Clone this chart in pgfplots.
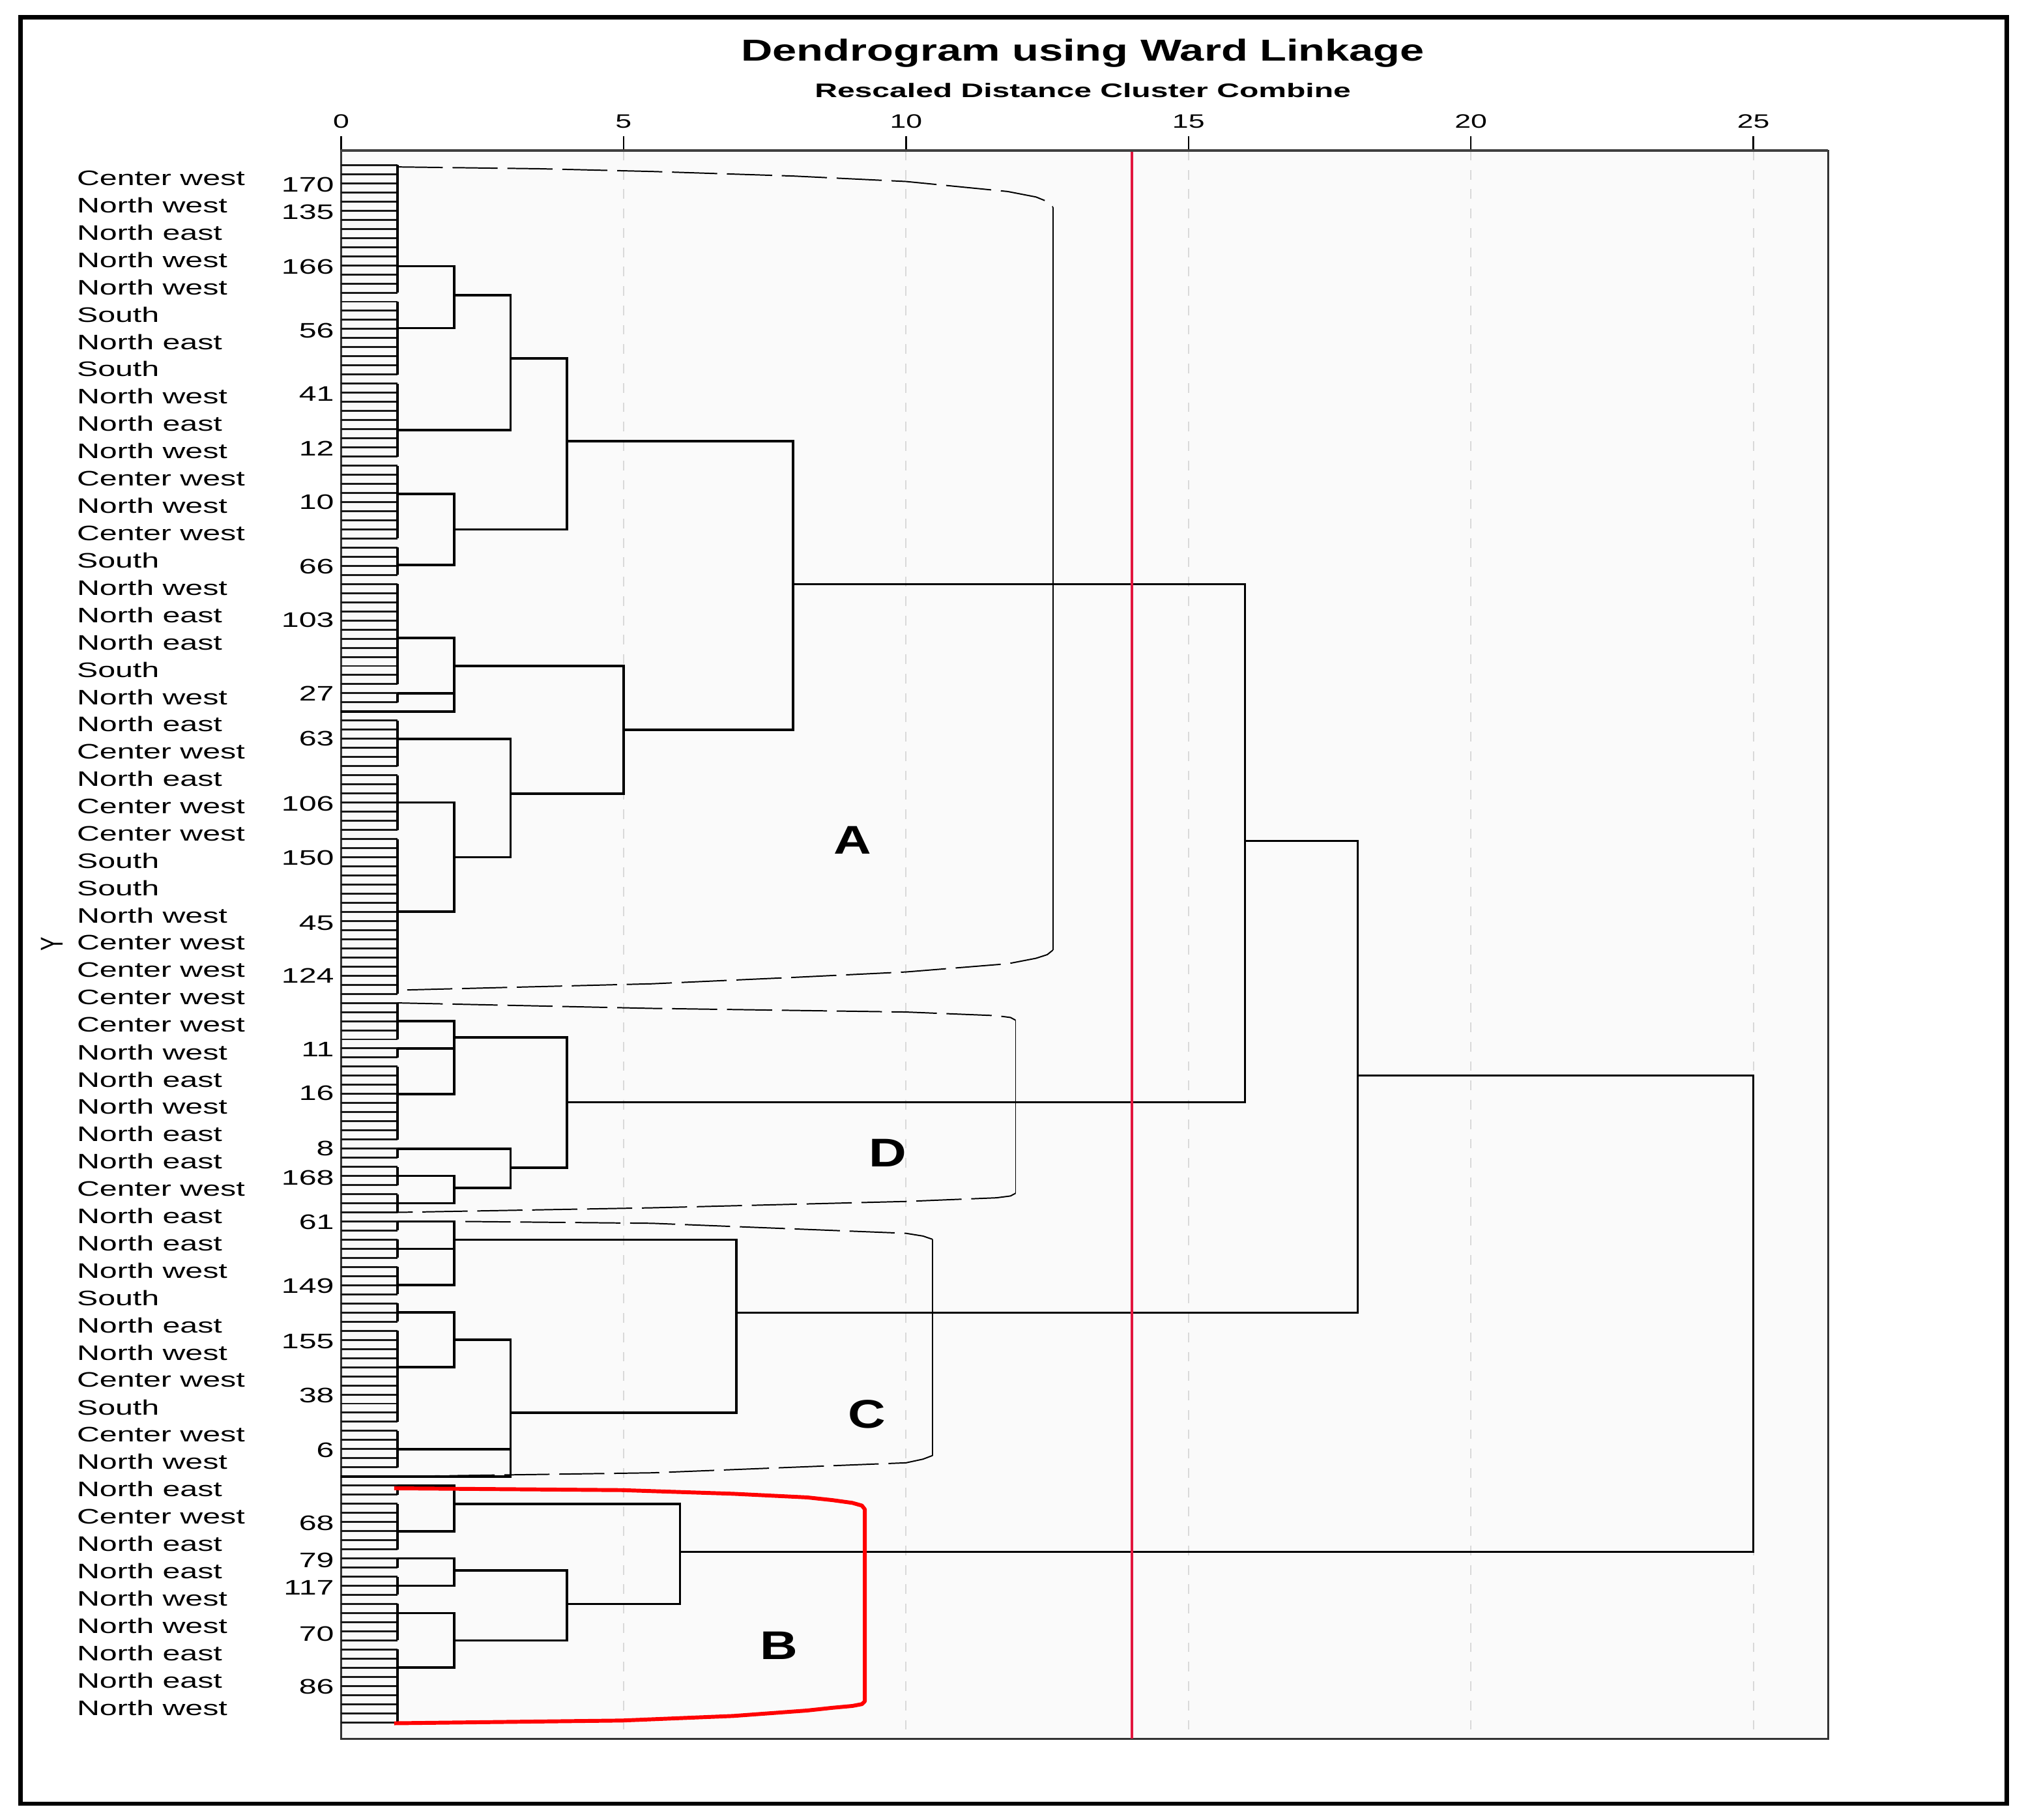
\documentclass[border=0pt]{standalone}
\usepackage{pgfplots}
\pgfplotsset{compat=1.18}
\usepackage{fontspec}
\setmainfont{Liberation Sans}
\usepackage{graphicx}
\newcommand{\sx}[1]{\scalebox{1.5}[1]{#1}}
\newcommand{\CW}{\sx{Center west}}
\newcommand{\NW}{\sx{North west}}
\newcommand{\NE}{\sx{North east}}
\newcommand{\SO}{\sx{South}}
\definecolor{cutred}{RGB}{226,22,62}
\begin{document}
\begin{tikzpicture}
\begin{axis}[
  scale only axis, width=460.4pt, height=491.8pt,
  xmin=0, xmax=26.32, ymin=-0.6, ymax=173.8, y dir=reverse,
  clip=false, unbounded coords=jump,
  axis background/.style={fill=black!2},
  axis line style={black!80, line width=0.6pt},
  tick align=outside, major tick length=4.4pt,
  xtick={0,5,10,15,20,25},
  xticklabels={\sx{0},\sx{5},\sx{10},\sx{15},\sx{20},\sx{25}},
  xtick pos=right, xticklabel pos=right,
  xticklabel style={font=\fontsize{6}{6.5}\selectfont, inner sep=0pt, yshift=2.3pt},
  xtick style={black, line width=0.5pt},
  xmajorgrids, major grid style={gray!30, dash pattern=on 3pt off 3pt, line width=0.4pt},
  ytick pos=left, ytick style={draw=none},
  ytick={3.17,6.15,12.2,19.2,26.1,32.1,38.0,45.1,50.95,59.0,64.0,71.1,77.1,84.2,90.0,98.1,102.9,109.0,112.2,117.1,124.1,130.2,136.1,142.1,150.1,154.2,157.2,162.3,168.1},
  yticklabels={\sx{170},\sx{135},\sx{166},\sx{56},\sx{41},\sx{12},\sx{10},\sx{66},\sx{103},\sx{27},\sx{63},\sx{106},\sx{150},\sx{45},\sx{124},\sx{11},\sx{16},\sx{8},\sx{168},\sx{61},\sx{149},\sx{155},\sx{38},\sx{6},\sx{68},\sx{79},\sx{117},\sx{70},\sx{86}},
  yticklabel style={font=\fontsize{6.5}{7}\selectfont, inner sep=0pt, xshift=2.4pt},
  extra y ticks={2.4,5.4,8.4,11.4,14.4,17.4,20.4,23.4,26.4,29.4,32.4,35.4,38.4,41.4,44.4,47.4,50.4,53.4,56.4,59.4,62.4,65.4,68.4,71.4,74.4,77.4,80.4,83.4,86.4,89.4,92.4,95.4,98.4,101.4,104.4,107.4,110.4,113.4,116.4,119.4,122.4,125.4,128.4,131.4,134.4,137.4,140.4,143.4,146.4,149.4,152.4,155.4,158.4,161.4,164.4,167.4,170.4},
  extra y tick labels={\CW,\NW,\NE,\NW,\NW,\SO,\NE,\SO,\NW,\NE,\NW,\CW,\NW,\CW,\SO,\NW,\NE,\NE,\SO,\NW,\NE,\CW,\NE,\CW,\CW,\SO,\SO,\NW,\CW,\CW,\CW,\CW,\NW,\NE,\NW,\NE,\NE,\CW,\NE,\NE,\NW,\SO,\NE,\NW,\CW,\SO,\CW,\NW,\NE,\CW,\NE,\NE,\NW,\NW,\NE,\NE,\NW},
  extra y tick style={yticklabel style={anchor=west, xshift=-80pt}},
]
% leaves
\addplot[xcomb, black!90, line width=0.6pt] coordinates {
(1,1)(1,2)(1,3)(1,4)(1,5)(1,6)(1,7)(1,8)(1,9)(1,10)(1,11)(1,12)(1,13)(1,14)(1,15)(1,16)(1,17)(1,18)(1,19)(1,20)
(1,21)(1,22)(1,23)(1,24)(1,25)(1,26)(1,27)(1,28)(1,29)(1,30)(1,31)(1,32)(1,33)(1,34)(1,35)(1,36)(1,37)(1,38)(1,39)(1,40)
(1,41)(1,42)(1,43)(1,44)(1,45)(1,46)(1,47)(1,48)(1,49)(1,50)(1,51)(1,52)(1,53)(1,54)(1,55)(1,56)(1,57)(1,58)(1,59)(1,60)
(1,61)(1,62)(1,63)(1,64)(1,65)(1,66)(1,67)(1,68)(1,69)(1,70)(1,71)(1,72)(1,73)(1,74)(1,75)(1,76)(1,77)(1,78)(1,79)(1,80)
(1,81)(1,82)(1,83)(1,84)(1,85)(1,86)(1,87)(1,88)(1,89)(1,90)(1,91)(1,92)(1,93)(1,94)(1,95)(1,96)(1,97)(1,98)(1,99)(1,100)
(1,101)(1,102)(1,103)(1,104)(1,105)(1,106)(1,107)(1,108)(1,109)(1,110)(1,111)(1,112)(1,113)(1,114)(1,115)(1,116)(1,117)(1,118)(1,119)(1,120)
(1,121)(1,122)(1,123)(1,124)(1,125)(1,126)(1,127)(1,128)(1,129)(1,130)(1,131)(1,132)(1,133)(1,134)(1,135)(1,136)(1,137)(1,138)(1,139)(1,140)
(1,141)(1,142)(1,143)(1,144)(1,145)(1,146)(1,147)(1,148)(1,149)(1,150)(1,151)(1,152)(1,153)(1,154)(1,155)(1,156)(1,157)(1,158)(1,159)(1,160)
(1,161)(1,162)(1,163)(1,164)(1,165)(1,166)(1,167)(1,168)(1,169)(1,170)(1,171)(1,172)};
% group bars at distance 1
\addplot[black, line width=0.9pt] coordinates {
(1,1)(1,15) (1,nan) (1,16)(1,24) (1,nan) (1,25)(1,33) (1,nan) (1,34)(1,42) (1,nan) (1,43)(1,46) (1,nan)
(1,47)(1,58) (1,nan) (1,59)(1,60) (1,nan) (1,62)(1,67) (1,nan) (1,68)(1,74) (1,nan) (1,75)(1,92) (1,nan)
(1,93)(1,97) (1,nan) (1,98)(1,99) (1,nan) (1,100)(1,108) (1,nan) (1,109)(1,110) (1,nan) (1,111)(1,113) (1,nan) (1,114)(1,116) (1,nan)
(1,117)(1,118) (1,nan) (1,119)(1,121) (1,nan) (1,122)(1,125) (1,nan) (1,126)(1,128) (1,nan) (1,129)(1,139) (1,nan) (1,140)(1,144) (1,nan)
(1,146)(1,147) (1,nan) (1,148)(1,153) (1,nan) (1,154)(1,155) (1,nan) (1,156)(1,158) (1,nan) (1,159)(1,163) (1,nan) (1,164)(1,172)};
% cluster A
\addplot[black, line width=0.75pt] coordinates {
(1,12.1)(2,12.1)(2,18.9)(1,18.9) (1,nan)
(2,15.3)(3,15.3)(3,30.1)(1,30.1) (1,nan)
(1,37.1)(2,37.1)(2,44.9)(1,44.9) (1,nan)
(3,22.2)(4,22.2)(4,41)(2,41) (1,nan)
(1,52.9)(2,52.9)(2,61)(0,61) (1,nan)
(1,59)(2,59) (1,nan)
(1,71)(2,71)(2,83)(1,83) (1,nan)
(1,64)(3,64)(3,77)(2,77) (1,nan)
(2,56)(5,56)(5,70)(3,70) (1,nan)
(4,31.3)(8,31.3)(8,63)(5,63)};
% cluster D
\addplot[black, line width=0.75pt] coordinates {
(1,95)(2,95)(2,103)(1,103) (1,nan)
(1,98)(2,98) (1,nan)
(1,112)(2,112)(2,115)(1,115) (1,nan)
(1,109)(3,109)(3,113.3)(2,113.3) (1,nan)
(2,96.8)(4,96.8)(4,111.1)(3,111.1)};
% cluster C
\addplot[black, line width=0.75pt] coordinates {
(1,117)(2,117)(2,124)(1,124) (1,nan)
(1,120)(2,120) (1,nan)
(1,127)(2,127)(2,133)(1,133) (1,nan)
(2,130)(3,130)(3,145)(0,145) (1,nan)
(1,142)(3,142) (1,nan)
(2,119)(7,119)(7,138)(3,138)};
% cluster B
\addplot[black, line width=0.75pt] coordinates {
(1,146)(2,146)(2,151)(1,151) (1,nan)
(1,154)(2,154)(2,157)(1,157) (1,nan)
(1,160)(2,160)(2,166)(1,166) (1,nan)
(2,155.3)(4,155.3)(4,163)(2,163) (1,nan)
(2,148)(6,148)(6,159)(4,159)};
% top-level merges
\addplot[black, line width=0.6pt] coordinates {
(8,47)(16,47)(16,103.9)(4,103.9) (1,nan)
(16,75.2)(18,75.2)(18,127)(7,127) (1,nan)
(18,101)(25,101)(25,153.3)(6,153.3)};
% cut line
\addplot[cutred, line width=0.7pt] coordinates {(14,-0.6) (14,173.8)};
% bracket A
\addplot[black, line width=0.4pt, dash pattern=on 14pt off 3pt] coordinates {(1,1.2) (3.5,1.4) (5.5,1.7) (8,2.2) (10,2.8) (11.8,3.9) (12.3,4.5) (12.5,5.0) (12.6,5.6)};
\addplot[black, line width=0.4pt] coordinates {(12.6,5.6) (12.6,87.2)};
\addplot[black, line width=0.4pt, dash pattern=on 14pt off 3pt] coordinates {(12.6,87.2) (12.5,87.7) (12.3,88.1) (11.8,88.7) (10,89.6) (8,90.2) (5.5,90.9) (1,91.6)};
% bracket D
\addplot[black, line width=0.4pt, dash pattern=on 14pt off 3pt] coordinates {(1,93.0) (5.5,93.6) (10,94.0) (11.6,94.4) (11.85,94.6) (11.94,94.9)};
\addplot[black, line width=0.4pt] coordinates {(11.94,94.9) (11.94,113.9)};
\addplot[black, line width=0.4pt, dash pattern=on 14pt off 3pt] coordinates {(11.94,113.9) (11.85,114.2) (11.6,114.4) (10,114.8) (5.5,115.5) (1,116)};
% bracket C
\addplot[black, line width=0.4pt, dash pattern=on 14pt off 3pt] coordinates {(2.2,117.0) (5.5,117.2) (10,118.3) (10.3,118.6) (10.47,118.96)};
\addplot[black, line width=0.4pt] coordinates {(10.47,118.96) (10.47,142.7)};
\addplot[black, line width=0.4pt, dash pattern=on 14pt off 3pt] coordinates {(10.47,142.7) (10.3,143.1) (10,143.5) (5.5,144.6) (1,145)};
% bracket B (red)
\addplot[red, line width=1.2pt, line join=round] coordinates {(0.94,146.3) (4.97,146.5) (6.94,146.9) (8.25,147.3) (8.7,147.6) (9.05,147.9) (9.22,148.2) (9.27,148.6) (9.27,169.7) (9.22,170.0) (9.05,170.2) (8.7,170.4) (8.25,170.7) (6.94,171.3) (4.97,171.8) (0.94,172.1)};
% top border
\draw[black!75, line width=1pt] (axis cs:0,-0.6) -- (axis cs:26.32,-0.6);
% cluster letters
\node[font=\fontsize{12.4}{13}\bfseries\selectfont] at (axis cs:9.06,75.1) {\scalebox{1.3}[1]{A}};
\node[font=\fontsize{12.4}{13}\bfseries\selectfont] at (axis cs:9.68,109.5) {\scalebox{1.3}[1]{D}};
\node[font=\fontsize{12.4}{13}\bfseries\selectfont] at (axis cs:9.31,138.2) {\scalebox{1.3}[1]{C}};
\node[font=\fontsize{12.4}{13}\bfseries\selectfont] at (axis cs:7.75,163.6) {\scalebox{1.3}[1]{B}};
% y label
\node[font=\fontsize{6.5}{7}\selectfont] at (axis cs:-5.12,86.5) {\sx{\rotatebox{90}{Y}}};
% titles
\node at (axis cs:13.13,-11.3) {\resizebox{211.6pt}{6.8pt}{\bfseries Dendrogram using Ward Linkage}};
\node at (axis cs:13.13,-7.2) {\resizebox{166pt}{4.4pt}{\bfseries Rescaled Distance Cluster Combine}};
% frame and page
\draw[black, line width=1.3pt] (axis cs:-5.672,-15.23) rectangle (axis cs:29.483,180.94);
\path (axis cs:-6.038,-17.128) rectangle (axis cs:29.826,182.72);
\end{axis}
\end{tikzpicture}
\end{document}
